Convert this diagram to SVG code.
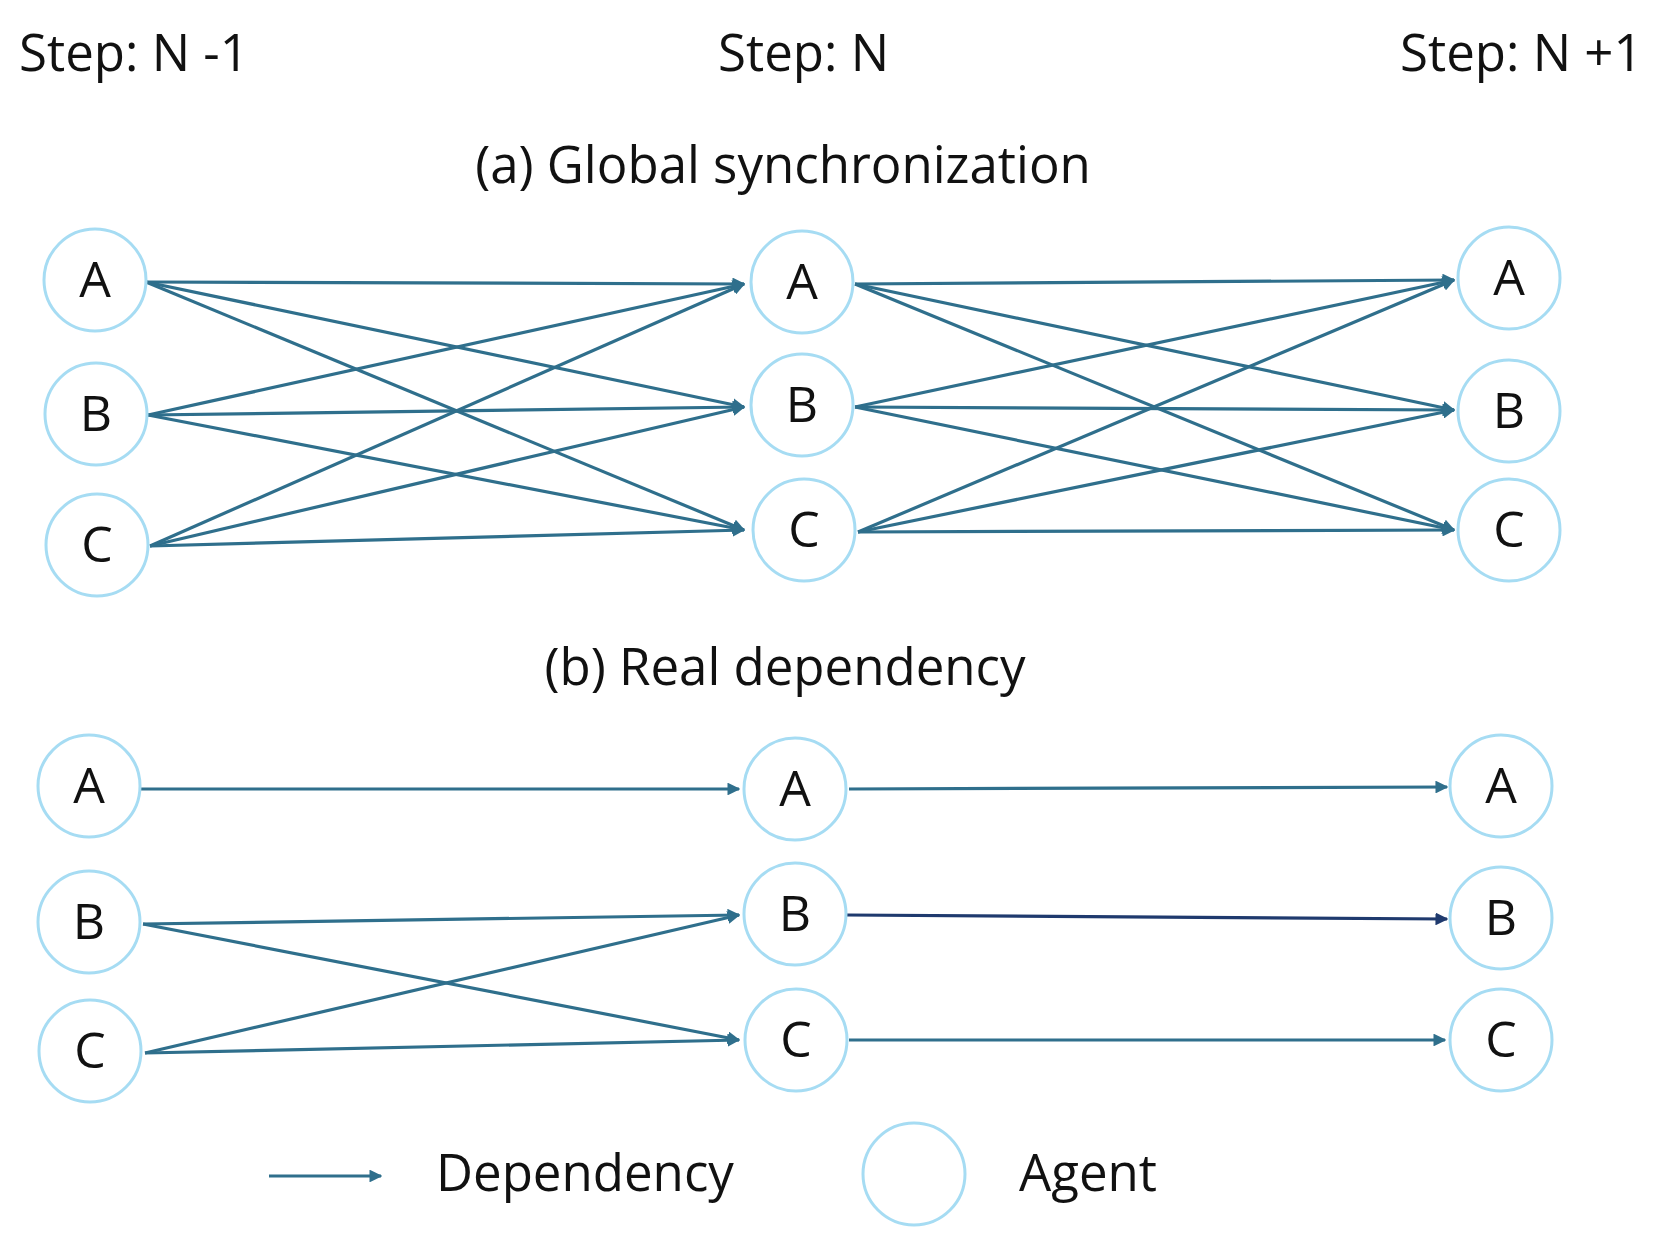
<svg xmlns="http://www.w3.org/2000/svg" width="1661" height="1236" viewBox="0 0 1661 1236">
<style>
text{font-family:"Open Sans","Liberation Sans",sans-serif;fill:#111}
.h{font-size:51px}
.n{font-size:50px;text-anchor:middle}
circle{fill:#fff;stroke:#a6dcf3;stroke-width:3}
.e line{stroke:#2f6f8c;stroke-width:3.2;marker-end:url(#ar)}
</style>
<defs>
<marker id="ar" viewBox="0 0 10 10" refX="9" refY="5" markerWidth="4" markerHeight="4" orient="auto" markerUnits="strokeWidth"><path d="M0,0L10,5L0,10z" fill="#2f6f8c"/></marker>
<marker id="ar2" viewBox="0 0 10 10" refX="9" refY="5" markerWidth="4" markerHeight="4" orient="auto" markerUnits="strokeWidth"><path d="M0,0L10,5L0,10z" fill="#1f3a6e"/></marker>
</defs>
<g id="labels">
<text class="h" x="19" y="71">Step: N -1</text>
<text class="h" x="718" y="71">Step: N</text>
<text class="h" x="1400" y="71">Step: N +1</text>
<text class="h" x="783" y="183" text-anchor="middle">(a) Global synchronization</text>
<text class="h" x="785" y="685" text-anchor="middle">(b) Real dependency</text>
</g>
<g class="e" id="connectors">
<line x1="146" y1="282" x2="744" y2="284"/>
<line x1="146" y1="282" x2="744" y2="407"/>
<line x1="146" y1="282" x2="744" y2="530"/>
<line x1="148" y1="415" x2="744" y2="284"/>
<line x1="148" y1="415" x2="744" y2="407"/>
<line x1="148" y1="415" x2="744" y2="530"/>
<line x1="150" y1="546" x2="744" y2="284"/>
<line x1="150" y1="546" x2="744" y2="407"/>
<line x1="150" y1="546" x2="744" y2="530"/>
<line x1="855" y1="284" x2="1454" y2="280"/>
<line x1="855" y1="284" x2="1454" y2="410"/>
<line x1="855" y1="284" x2="1454" y2="530"/>
<line x1="855" y1="407" x2="1454" y2="280"/>
<line x1="855" y1="407" x2="1454" y2="410"/>
<line x1="855" y1="407" x2="1454" y2="530"/>
<line x1="858" y1="532" x2="1454" y2="280"/>
<line x1="858" y1="532" x2="1454" y2="410"/>
<line x1="858" y1="532" x2="1454" y2="530"/>
<line x1="141" y1="789" x2="739" y2="789"/>
<line x1="849" y1="789" x2="1447" y2="787"/>
<line x1="143" y1="924" x2="739" y2="915"/>
<line x1="143" y1="924" x2="739" y2="1040"/>
<line x1="145" y1="1053" x2="739" y2="915"/>
<line x1="145" y1="1053" x2="739" y2="1040"/>
<line x1="847" y1="915" x2="1447" y2="919" style="stroke:#1f3a6e;marker-end:url(#ar2)"/>
<line x1="849" y1="1040" x2="1445" y2="1040"/>
<line x1="269" y1="1176" x2="381" y2="1176"/>
</g>
<g id="n1A"><circle cx="95" cy="280" r="51"/><text class="n" x="95" y="297">A</text></g>
<g id="n1B"><circle cx="96" cy="414" r="51"/><text class="n" x="96" y="431">B</text></g>
<g id="n1C"><circle cx="97" cy="545" r="51"/><text class="n" x="97" y="562">C</text></g>
<g id="n2A"><circle cx="802" cy="282" r="51"/><text class="n" x="802" y="299">A</text></g>
<g id="n2B"><circle cx="802" cy="405" r="51"/><text class="n" x="802" y="422">B</text></g>
<g id="n2C"><circle cx="804" cy="530" r="51"/><text class="n" x="804" y="547">C</text></g>
<g id="n3A"><circle cx="1509" cy="278" r="51"/><text class="n" x="1509" y="295">A</text></g>
<g id="n3B"><circle cx="1509" cy="411" r="51"/><text class="n" x="1509" y="428">B</text></g>
<g id="n3C"><circle cx="1509" cy="530" r="51"/><text class="n" x="1509" y="547">C</text></g>
<g id="m1A"><circle cx="89" cy="786" r="51"/><text class="n" x="89" y="803">A</text></g>
<g id="m1B"><circle cx="89" cy="922" r="51"/><text class="n" x="89" y="939">B</text></g>
<g id="m1C"><circle cx="90" cy="1051" r="51"/><text class="n" x="90" y="1068">C</text></g>
<g id="m2A"><circle cx="795" cy="789" r="51"/><text class="n" x="795" y="806">A</text></g>
<g id="m2B"><circle cx="795" cy="914" r="51"/><text class="n" x="795" y="931">B</text></g>
<g id="m2C"><circle cx="796" cy="1040" r="51"/><text class="n" x="796" y="1057">C</text></g>
<g id="m3A"><circle cx="1501" cy="786" r="51"/><text class="n" x="1501" y="803">A</text></g>
<g id="m3B"><circle cx="1501" cy="918" r="51"/><text class="n" x="1501" y="935">B</text></g>
<g id="m3C"><circle cx="1501" cy="1040" r="51"/><text class="n" x="1501" y="1057">C</text></g>
<g id="legend">
<text class="h" x="436" y="1191">Dependency</text>
<circle cx="914" cy="1174" r="51"/>
<text class="h" x="1019" y="1191">Agent</text>
</g>
</svg>
